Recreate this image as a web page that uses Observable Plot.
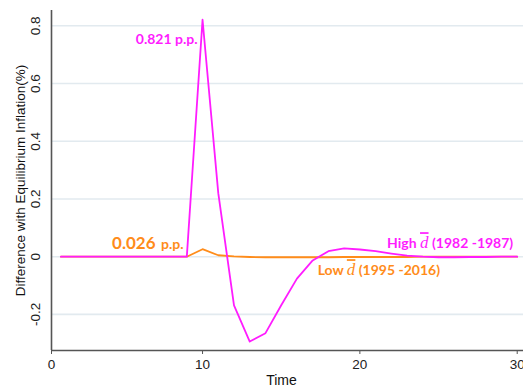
<!DOCTYPE html>
<html><head><meta charset="utf-8">
<script src="https://cdn.jsdelivr.net/npm/d3@7"></script>
<script src="https://cdn.jsdelivr.net/npm/@observablehq/plot@0.6"></script>
<style>body{margin:0;background:#fff}</style>
</head><body><div id="chart"></div>
<script>
const time = [1,2,3,4,5,6,7,8,9,10,11,12,13,14,15,16,17,18,19,20,21,22,23,24,25,26,27,28,29,30];
const highD = [0,0,0,0,0,0,0,0,0,0.821,0.22,-0.169,-0.294,-0.265,-0.168,-0.076,-0.013,0.019,0.029,0.025,0.019,0.011,0.004,0.000,-0.002,-0.002,-0.001,-0.001,0,0];
const lowD = [0,0,0,0,0,0,0,0,0,0.026,0.005,0.001,-0.001,-0.002,-0.002,-0.002,-0.002,-0.002,-0.001,-0.001,-0.001,-0.001,-0.001,0,0,0,0,0,0,0];
const yTicks = [-0.2, 0, 0.2, 0.4, 0.6, 0.8];
const xTicks = [0.4, 10, 20, 30];
const xTickLabels = ["0", "10", "20", "30"];
const highLabel = "High d\u0304 (1982 -1987)";
const lowLabel = "Low d\u0304 (1995 -2016)";
const peakHigh = "0.821 p.p.";
const peakLowNum = "0.026";
const peakLowUnit = "p.p.";

const magenta = "#ff1cff";
const orange = "#ff8c1a";
const highRows = time.map((t, i) => ({t, v: highD[i]}));
const lowRows = time.map((t, i) => ({t, v: lowD[i]}));
const xDom = [0.4, 30.4], yDom = [-0.325, 0.853];
const lbl = "Lato, 'Open Sans', sans-serif";

const chart = Plot.plot({
  width: 523, height: 385,
  marginLeft: 51, marginRight: 0, marginTop: 10, marginBottom: 35,
  x: {domain: xDom},
  y: {domain: yDom},
  style: {fontFamily: "'Liberation Sans', Arial, sans-serif", fontSize: "13px", background: "#fff", color: "#222"},
  marks: [
    Plot.gridY(yTicks, {stroke: "#e2eaef", strokeOpacity: 1, strokeWidth: 1.6}),
    Plot.axisY(yTicks, {tickSize: 0, tickPadding: 12, tickRotate: -90, tickFormat: d => String(d), label: null, fontSize: 13.5}),
    Plot.axisX(xTicks, {tickSize: 4, tickPadding: 5, tickFormat: (d, i) => xTickLabels[i], label: null, stroke: "#555", fontSize: 13.5}),
    Plot.ruleX([xDom[0]], {stroke: "#555", strokeWidth: 1.6}),
    Plot.ruleY([yDom[0]], {stroke: "#555", strokeWidth: 1.6}),
    Plot.text(["Difference with Equilibrium Inflation(%)"], {frameAnchor: "left", rotate: -90, textAnchor: "middle", dx: -27, lineAnchor: "bottom", fontSize: 13.5, fill: "#111"}),
    Plot.text(["Time"], {frameAnchor: "bottom", dy: 34, dx: -6, lineAnchor: "bottom", fontSize: 14, fill: "#111"}),
    Plot.line(lowRows, {x: "t", y: "v", stroke: orange, strokeWidth: 1.8}),
    Plot.line(highRows, {x: "t", y: "v", stroke: magenta, strokeWidth: 1.8}),
    Plot.text([{t: 10, v: 0.821}], {x: "t", y: "v", text: () => peakHigh, textAnchor: "end", dx: -5, dy: 20, fill: magenta, fontWeight: "bold", fontSize: 14, fontFamily: lbl}),
    Plot.text([{t: 10, v: 0.026}], {x: "t", y: "v", text: () => peakLowNum, textAnchor: "end", dx: -47, dy: -6, fill: orange, fontWeight: "bold", fontSize: 17, fontFamily: lbl}),
    Plot.text([{t: 10, v: 0.026}], {x: "t", y: "v", text: () => peakLowUnit, textAnchor: "end", dx: -19, dy: -5, fill: orange, fontWeight: "bold", fontSize: 14, fontFamily: lbl}),
    Plot.text([{t: 30, v: 0}], {x: "t", y: "v", text: () => highLabel, textAnchor: "end", dx: -4, dy: -13, fill: magenta, fontWeight: "bold", fontSize: 14, fontFamily: lbl}),
    Plot.text([{t: 17, v: 0}], {x: "t", y: "v", text: () => lowLabel, textAnchor: "start", dx: 5, dy: 14, fill: orange, fontWeight: "bold", fontSize: 14, fontFamily: lbl})
  ]
});
document.getElementById("chart").append(chart);

// Render the overlined italic d in the two legend labels
d3.select(chart).selectAll("text").each(function () {
  const el = d3.select(this);
  if (this.childElementCount) return;
  const s = this.textContent;
  const k = s.indexOf("d\u0304");
  if (k < 0) return;
  el.text(null);
  el.append("tspan").text(s.slice(0, k));
  el.append("tspan").text("d").attr("font-style", "italic").attr("font-weight", "normal")
    .attr("font-family", "'Liberation Serif', serif").attr("font-size", "17px")
    .style("text-decoration", "overline");
  el.append("tspan").text(s.slice(k + 2));
});
</script>
</body></html>
